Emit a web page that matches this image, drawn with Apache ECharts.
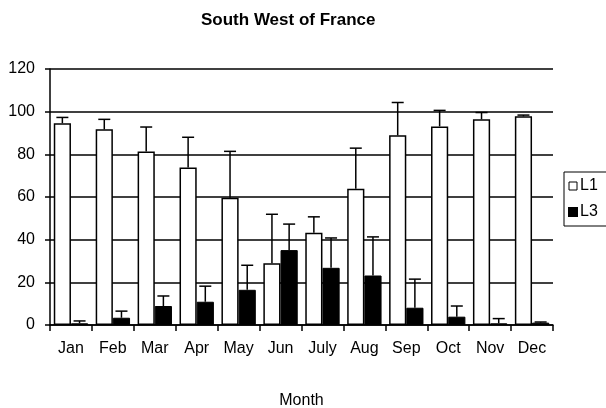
<!DOCTYPE html>
<html>
<head>
<meta charset="utf-8">
<script src="https://cdn.jsdelivr.net/npm/echarts@6/dist/echarts.min.js"></script>
<style>
  html, body { margin: 0; padding: 0; background: #fff; }
  #chart { width: 606px; height: 408px; }
</style>
</head>
<body>
<div id="chart"></div>
<script>
// data
var months = ["Jan", "Feb", "Mar", "Apr", "May", "Jun", "July", "Aug", "Sep", "Oct", "Nov", "Dec"];
var l1Values = [94.6, 91.7, 81.3, 73.8, 59.7, 28.9, 43.2, 63.9, 88.9, 93.1, 96.4, 97.8];
var l1ErrTop = [97.3, 96.4, 92.8, 88.0, 81.4, 51.9, 50.7, 82.9, 104.3, 100.6, 99.6, 98.4];
var l3Values = [0.8, 3.4, 8.9, 10.9, 16.5, 35.1, 26.8, 23.2, 8.1, 3.9, 0.8, 1.1];
var l3ErrTop = [1.9, 6.5, 13.6, 18.2, 28.0, 47.3, 40.8, 41.3, 21.5, 8.9, 3.0, 1.4];
var yTicks = [0, 20, 40, 60, 80, 100, 120];

var GAP = 0.18;
var font = "Liberation Sans, Arial, sans-serif";

function errData(vals, tops) {
  var out = [];
  for (var i = 0; i < vals.length; i++) {
    out.push([i, vals[i], tops[i]]);
  }
  return out;
}

function errRender(side) {
  return function (params, api) {
    var band = api.size([1, 0])[0];
    var barW = band * (1 - GAP) / 2;
    var base = api.coord([api.value(0), api.value(1)]);
    var top = api.coord([api.value(0), api.value(2)]);
    var x = base[0] + side * barW / 2;
    var cap = 6;
    return {
      type: "group",
      children: [
        {
          type: "line",
          shape: { x1: x, y1: base[1], x2: x, y2: top[1] },
          style: { stroke: "#000", lineWidth: 1.5 }
        },
        {
          type: "line",
          shape: { x1: x - cap, y1: top[1], x2: x + cap, y2: top[1] },
          style: { stroke: "#000", lineWidth: 1.5 }
        }
      ]
    };
  };
}

var chart = echarts.init(document.getElementById("chart"), null, { renderer: "canvas" });
chart.setOption({
  animation: false,
  backgroundColor: "#fff",
  title: {
    text: "South West of France",
    left: 196,
    top: 7,
    textStyle: { fontFamily: font, fontSize: 17, fontWeight: "bold", color: "#000" }
  },
  legend: {
    data: [
      { name: "L1", itemStyle: { color: "#fff", borderColor: "#000", borderWidth: 1 } },
      { name: "L3", itemStyle: { color: "#000" } }
    ],
    orient: "vertical",
    left: 564,
    top: 172,
    icon: "rect",
    itemWidth: 8,
    itemHeight: 8,
    itemGap: 10,
    padding: [6, 20, 6, 4],
    borderColor: "#000",
    borderWidth: 1,
    textStyle: { fontFamily: font, fontSize: 16, color: "#000", padding: [0, 0, 0, -2] }
  },
  grid: { left: 50, right: 53, top: 69, bottom: 83, outerBoundsMode: "none", containLabel: false },
  xAxis: {
    type: "category",
    data: months,
    name: "Month",
    nameLocation: "middle",
    nameGap: 68,
    nameTextStyle: { fontFamily: font, fontSize: 16, color: "#000" },
    axisLine: { lineStyle: { color: "#000", width: 1.5 } },
    axisTick: { show: true, length: 6, lineStyle: { color: "#000", width: 1.5 } },
    axisLabel: { fontFamily: font, fontSize: 16, color: "#000", margin: 16, interval: 0 }
  },
  yAxis: {
    type: "value",
    min: 0,
    max: 120,
    interval: 20,
    axisLine: { show: true, lineStyle: { color: "#000", width: 1.5 } },
    axisTick: { show: true, length: 5, lineStyle: { color: "#000", width: 1.5 } },
    axisLabel: { fontFamily: font, fontSize: 16, color: "#000", margin: 15,
      formatter: function (v) { return yTicks.indexOf(v) >= 0 ? String(v) : ""; } },
    splitLine: { lineStyle: { color: "#000", width: 1.5 } }
  },
  series: [
    {
      name: "L1",
      type: "bar",
      data: l1Values,
      barGap: "0%",
      barCategoryGap: (GAP * 100) + "%",
      itemStyle: { color: "#fff", borderColor: "#000", borderWidth: 1.5 }
    },
    {
      name: "L3",
      type: "bar",
      data: l3Values,
      itemStyle: { color: "#000", borderColor: "#000", borderWidth: 1 }
    },
    {
      type: "custom",
      renderItem: errRender(-1),
      data: errData(l1Values, l1ErrTop),
      z: 5,
      silent: true
    },
    {
      type: "custom",
      renderItem: errRender(1),
      data: errData(l3Values, l3ErrTop),
      z: 5,
      silent: true
    }
  ]
});
</script>
</body>
</html>
